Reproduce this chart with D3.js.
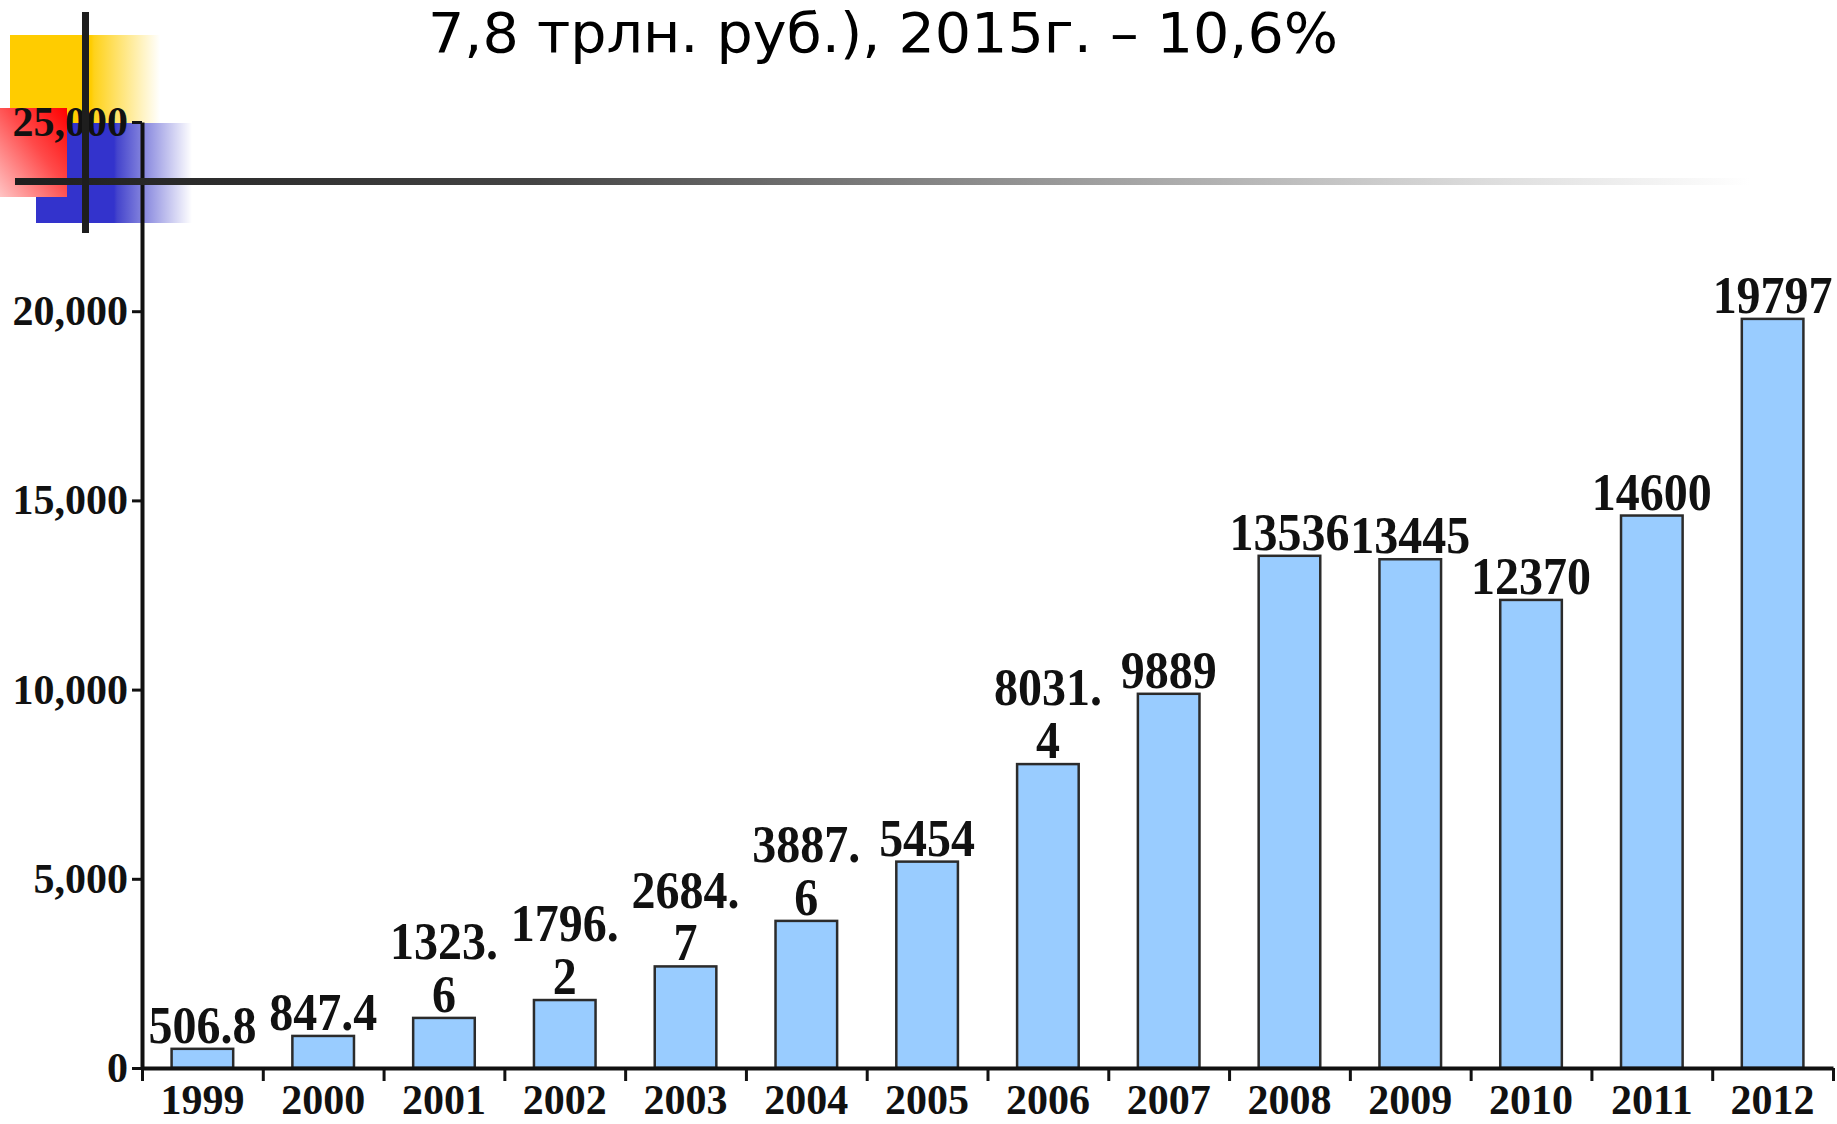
<!DOCTYPE html>
<html>
<head>
<meta charset="utf-8">
<script src="https://cdn.jsdelivr.net/npm/d3@7/dist/d3.min.js"></script>
<style>
  html, body { margin: 0; padding: 0; background: #fff; }
  svg { display: block; }
</style>
</head>
<body>
<svg id="chart" width="1837" height="1124"></svg>
<script>
// ---- data ----
const titleText = "7,8 трлн. руб.), 2015г. – 10,6%";
const categories = ["1999","2000","2001","2002","2003","2004","2005","2006","2007","2008","2009","2010","2011","2012"];
const values = [506.8, 847.4, 1323.6, 1796.2, 2684.7, 3887.6, 5454, 8031.4, 9889, 13536, 13445, 12370, 14600, 19797];
const yTicks = [0, 5000, 10000, 15000, 20000, 25000];

const svg = d3.select("#chart");
const defs = svg.append("defs");

// ---- slide decoration (template squares + lines) ----
const gY = defs.append("linearGradient").attr("id","gYellow").attr("x1","0").attr("x2","1").attr("y1","0").attr("y2","0");
gY.append("stop").attr("offset","0").attr("stop-color","#FFCC00");
gY.append("stop").attr("offset","0.54").attr("stop-color","#FFCC00");
gY.append("stop").attr("offset","0.56").attr("stop-color","#FFD21A");
gY.append("stop").attr("offset","1").attr("stop-color","#FFFFFF");

const gB = defs.append("linearGradient").attr("id","gBlue").attr("x1","0").attr("x2","1").attr("y1","0").attr("y2","0");
gB.append("stop").attr("offset","0").attr("stop-color","#3333CC");
gB.append("stop").attr("offset","0.5").attr("stop-color","#3333CC");
gB.append("stop").attr("offset","0.52").attr("stop-color","#4444CC");
gB.append("stop").attr("offset","1").attr("stop-color","#FFFFFF");

const gR = defs.append("linearGradient").attr("id","gRed").attr("x1","1").attr("y1","0").attr("x2","0").attr("y2","1");
gR.append("stop").attr("offset","0").attr("stop-color","#FF0000");
gR.append("stop").attr("offset","0.45").attr("stop-color","#FF4A4A");
gR.append("stop").attr("offset","1").attr("stop-color","#FFC4C4");

const gL = defs.append("linearGradient").attr("id","gLine").attr("x1","0").attr("x2","1").attr("y1","0").attr("y2","0");
gL.append("stop").attr("offset","0").attr("stop-color","#1E1E1E");
gL.append("stop").attr("offset","0.3").attr("stop-color","#444");
gL.append("stop").attr("offset","0.6").attr("stop-color","#999");
gL.append("stop").attr("offset","0.85").attr("stop-color","#DDD");
gL.append("stop").attr("offset","1").attr("stop-color","#FFF");

const deco = svg.append("g");
deco.append("rect").attr("x",10).attr("y",35).attr("width",150).attr("height",90).attr("fill","url(#gYellow)");
deco.append("rect").attr("x",36).attr("y",123).attr("width",156).attr("height",100).attr("fill","url(#gBlue)");
deco.append("rect").attr("x",0).attr("y",108).attr("width",67).attr("height",89).attr("fill","url(#gRed)");

// ---- title ----
svg.append("text")
  .attr("x", 428).attr("y", 52)
  .attr("textLength", 910).attr("lengthAdjust", "spacingAndGlyphs")
  .attr("font-family", "'DejaVu Sans Condensed', 'DejaVu Sans', sans-serif")
  .attr("font-size", 56)
  .attr("fill", "#000")
  .text(titleText);

// ---- chart ----
const x0 = 142, x1 = 1833, yBase = 1068, yTop = 122;
const x = d3.scaleBand().domain(categories).range([x0, x1]).paddingInner(0.49).paddingOuter(0.245);
const y = d3.scaleLinear().domain([0, 25000]).range([yBase, yTop]);
const xTickScale = d3.scaleLinear().domain([0, categories.length]).range([x0, x1]);

const chart = svg.append("g");

// bars
chart.selectAll("rect.bar").data(values).join("rect")
  .attr("class","bar")
  .attr("x", (d,i) => x(categories[i]))
  .attr("width", x.bandwidth())
  .attr("y", d => y(d))
  .attr("height", d => y(0) - y(d))
  .attr("fill", "#99CCFF")
  .attr("stroke", "#2b2b2b")
  .attr("stroke-width", 2.5);

// value labels
const labelFont = "'Liberation Serif', 'Times New Roman', serif";
values.forEach((v, i) => {
  const s = String(v);
  const lines = (s.length > 5 && s.includes(".")) ? [s.slice(0, s.indexOf(".") + 1), s.slice(s.indexOf(".") + 1)] : [s];
  const t = chart.append("text")
    .attr("transform", `translate(${x(categories[i]) + x.bandwidth()/2},${y(v) - 6}) scale(1,1.1)`)
    .attr("text-anchor", "middle")
    .style("font-family", labelFont)
    .style("font-weight", "bold")
    .style("font-size", "48px")
    .attr("fill", "#111");
  lines.forEach((ln, k) => {
    t.append("tspan").attr("x", 0).attr("y", -(lines.length - 1 - k) * 48).text(ln);
  });
});

// y axis
const yAxis = chart.append("g")
  .attr("transform", `translate(${x0},0)`)
  .call(d3.axisLeft(y).tickValues(yTicks).tickFormat(d3.format(",")).tickSize(10).tickSizeOuter(0).tickPadding(4));
yAxis.select(".domain").attr("stroke", "#111").attr("stroke-width", 4);
yAxis.selectAll(".tick line").attr("stroke", "#111").attr("stroke-width", 3);
yAxis.selectAll(".tick text")
  .style("font-family", labelFont).style("font-weight", "bold").style("font-size", "42px").attr("fill", "#111");

// x axis (ticks at category boundaries)
const xAxis = chart.append("g")
  .attr("transform", `translate(0,${yBase})`)
  .call(d3.axisBottom(xTickScale).ticks(categories.length).tickFormat("").tickSize(13).tickSizeOuter(0));
xAxis.select(".domain").attr("stroke", "#111").attr("stroke-width", 4);
xAxis.selectAll(".tick line").attr("stroke", "#111").attr("stroke-width", 3);

// category labels
chart.selectAll("text.cat").data(categories).join("text")
  .attr("class","cat")
  .attr("x", d => x(d) + x.bandwidth()/2)
  .attr("y", 1114)
  .attr("text-anchor", "middle")
  .style("font-family", labelFont).style("font-weight", "bold").style("font-size", "42px")
  .attr("fill", "#111")
  .text(d => d);

// ---- template lines on top ----
svg.append("rect").attr("x", 15).attr("y", 178).attr("width", 1735).attr("height", 7).attr("fill", "url(#gLine)");
svg.append("rect").attr("x", 82).attr("y", 12).attr("width", 7).attr("height", 221).attr("fill", "#1E1E1E");
</script>
</body>
</html>
